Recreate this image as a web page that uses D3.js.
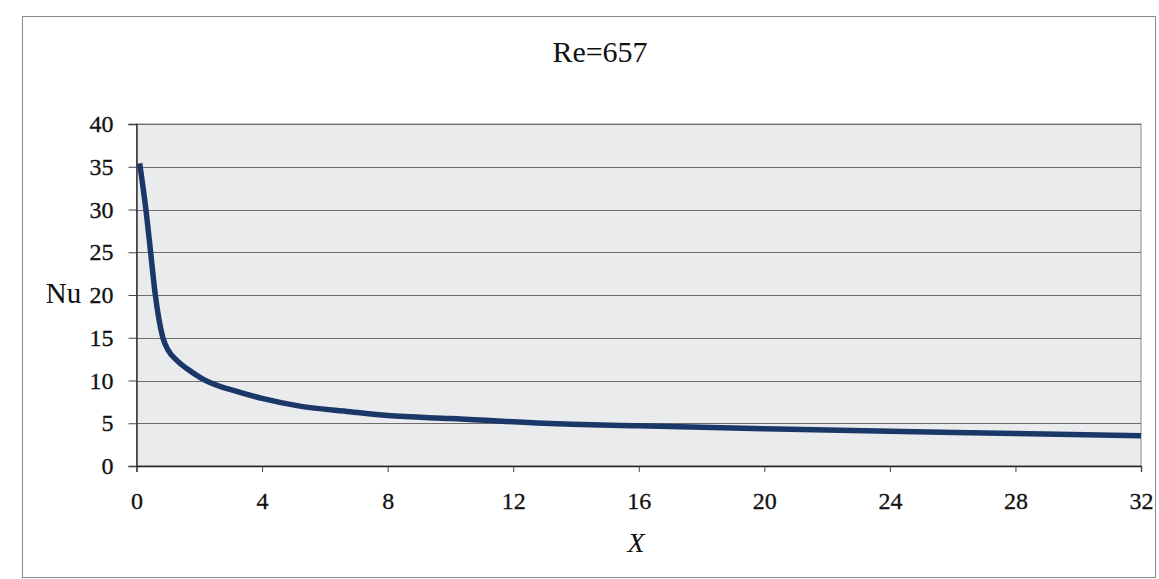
<!DOCTYPE html>
<html><head><meta charset="utf-8">
<script src="https://cdn.jsdelivr.net/npm/d3@7"></script>
<style>body{margin:0;background:#fff}svg{display:block}
svg text{font-family:'Liberation Serif','Times New Roman',serif;}</style>
</head><body>
<script>
const title = "Re=657";
const xLabel = "X";
const yLabel = "Nu";
const xTicks = [0,4,8,12,16,20,24,28,32];
const yTicks = [0,5,10,15,20,25,30,35,40];
const xValues = [0.1, 0.3, 0.45, 0.6, 0.84, 1.0, 1.3, 1.6, 2.1, 3.3, 4, 5.2, 6.8, 8, 10, 13, 16, 20, 24, 28, 32];
const nuValues = [35.4, 30, 25, 20, 15, 13.6, 12.3, 11.4, 10.2, 8.6, 7.9, 7.0, 6.35, 5.9, 5.55, 5.0, 4.7, 4.35, 4.05, 3.8, 3.55];

const W = 1159, H = 579;
const svg = d3.select("body").append("svg").attr("width", W).attr("height", H);
const font = "'Liberation Serif','Times New Roman',serif";

svg.append("rect").attr("x",22.5).attr("y",16.5).attr("width",1133).attr("height",561)
  .attr("fill","#fff").attr("stroke","#8a8a8a").attr("stroke-width",1);

const L = 136.5, R = 1141, T = 124, B = 466;
const x = d3.scaleLinear().domain([0,32]).range([L,R]);
const y = d3.scaleLinear().domain([0,40]).range([B,T]);

svg.append("rect").attr("x",L).attr("y",T).attr("width",R-L).attr("height",B-T)
  .attr("fill","#e9ebed").attr("stroke","#8a8a8a").attr("stroke-width",1);

// gridlines
svg.append("g").selectAll("line").data(yTicks.filter(d=>d>0)).join("line")
  .attr("x1",L).attr("x2",R).attr("y1",d=>Math.round(y(d))+0.5).attr("y2",d=>Math.round(y(d))+0.5)
  .attr("stroke","#6e6e6e").attr("stroke-width",1.2);

// axes
const yAxis = d3.axisLeft(y).tickValues(yTicks).tickSize(8).tickPadding(15).tickFormat(d3.format("d"));
const gy = svg.append("g").attr("transform",`translate(${L},0)`).call(yAxis);
const xAxis = d3.axisBottom(x).tickValues(xTicks).tickSize(6).tickPadding(20).tickFormat(d3.format("d"));
const gx = svg.append("g").attr("transform",`translate(0,${B})`).call(xAxis);
[gx,gy].forEach(g=>{
  g.attr("font-family",null).attr("font-size",null);
  g.select(".domain").attr("stroke","#222").attr("stroke-width",1.3);
  g.selectAll(".tick line").attr("stroke","#444");
  g.selectAll("text").style("font-family",font).style("font-size","24px").attr("fill","#111")
    .attr("stroke","#111").attr("stroke-width",0.3);
});
gx.selectAll(".tick text").attr("dy","0.71em");

// line
const line = d3.line().x((d,i)=>x(xValues[i])).y(d=>y(d)).curve(d3.curveMonotoneX);
svg.append("path").datum(nuValues).attr("d",line).attr("fill","none")
  .attr("stroke","#1b3768").attr("stroke-width",5.5).attr("stroke-linejoin","round");

svg.append("text").attr("x",600).attr("y",62).attr("text-anchor","middle")
  .style("font-family",font).attr("font-size",30).attr("fill","#111").text(title);
svg.append("text").attr("x",63.5).attr("y",303).attr("text-anchor","middle")
  .style("font-family",font).attr("font-size",29).attr("fill","#111").text(yLabel);
svg.append("text").attr("x",636).attr("y",552).attr("text-anchor","middle")
  .style("font-family",font).attr("font-style","italic").attr("font-size",28).attr("fill","#111").text(xLabel);
</script>
</body></html>
